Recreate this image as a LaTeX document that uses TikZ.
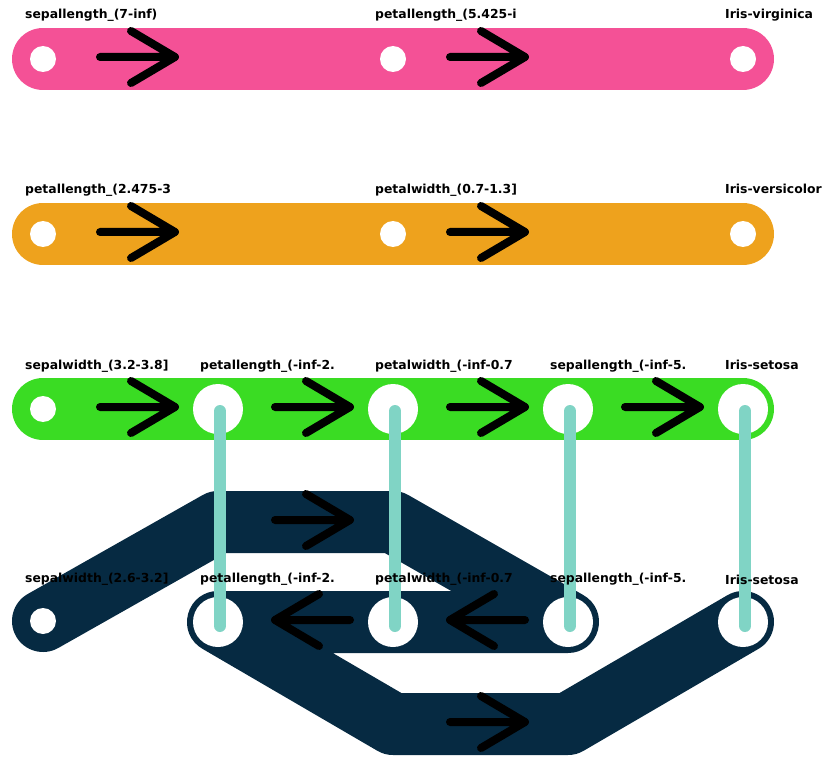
\documentclass[tikz,border=0pt]{standalone}
\usepackage{fontspec}
\setmainfont{DejaVu Sans}
\definecolor{pinkc}{RGB}{244,81,150}
\definecolor{orangec}{RGB}{238,162,29}
\definecolor{greenc}{RGB}{58,220,35}
\definecolor{navyc}{RGB}{6,42,66}
\definecolor{tealc}{RGB}{128,212,197}
\pgfdeclarelayer{bg}
\pgfsetlayers{bg,main}
\begin{document}
\begin{tikzpicture}[x=1pt,y=-1pt,
  band/.style={line width=62pt, line cap=round, line join=round},
  stn/.style={circle, fill=white, inner sep=0pt, minimum size=26pt},
  hub/.style={circle, fill=white, inner sep=0pt, minimum size=50pt},
  xfer/.style={line width=12pt, line cap=round, draw=tealc},
  lbl/.style={anchor=base west, inner sep=0pt, font=\fontsize{12.4}{14}\selectfont\bfseries},
  arrline/.style={line width=8pt, line cap=round, line join=round, draw=black},
  rarr/.pic={\draw[arrline] (-37.5,0) -- (37.5,0) (-6.5,-26) -- (37.5,0) -- (-6.5,26);},
  larr/.pic={\draw[arrline] (37.5,0) -- (-37.5,0) (6.5,-26) -- (-37.5,0) -- (6.5,26);}
]
\useasboundingbox (0,0) rectangle (823,757);

% stations
\node[stn] (s11) at (43,59) {};
\node[stn] (s13) at (393,59) {};
\node[stn] (s15) at (743,59) {};
\node[stn] (s21) at (43,234) {};
\node[stn] (s23) at (393,234) {};
\node[stn] (s25) at (743,234) {};
\node[stn] (s31) at (43,409) {};
\node[hub] (s32) at (218,409) {};
\node[hub] (s33) at (393,409) {};
\node[hub] (s34) at (568,409) {};
\node[hub] (s35) at (743,409) {};
\node[stn] (s41) at (43,621) {};
\node[hub] (s42) at (218,622) {};
\node[hub] (s43) at (393,622) {};
\node[hub] (s44) at (568,622) {};
\node[hub] (s45) at (743,622) {};
\coordinate (u1) at (218,522);
\coordinate (u2) at (393,522);
\coordinate (d1) at (393,724);
\coordinate (d2) at (568,724);

% bands
\begin{pgfonlayer}{bg}
\draw[band, pinkc] (s11.center) -- (s13.center) -- (s15.center);
\draw[band, orangec] (s21.center) -- (s23.center) -- (s25.center);
\draw[band, greenc] (s31.center) -- (s32.center) -- (s33.center) -- (s34.center) -- (s35.center);
\draw[band, navyc] (s41.center) -- (u1) -- (u2) -- (s44.center) -- (s43.center) -- (s42.center) -- (d1) -- (d2) -- (s45.center);
\end{pgfonlayer}

% arrows
\pic at (137.5,57) {rarr};
\pic at (487.5,57) {rarr};
\pic at (137.5,232) {rarr};
\pic at (487.5,232) {rarr};
\pic at (137.5,407) {rarr};
\pic at (312.5,407) {rarr};
\pic at (487.5,407) {rarr};
\pic at (662.5,407) {rarr};
\pic at (312.5,520) {rarr};
\pic at (312.5,620) {larr};
\pic at (487.5,620) {larr};
\pic at (487.5,722) {rarr};

% transfers
\draw[xfer] ([xshift=2pt,yshift=-2pt]s32.center) -- ([xshift=2pt,yshift=-4pt]s42.center);
\draw[xfer] ([xshift=2pt,yshift=-2pt]s33.center) -- ([xshift=2pt,yshift=-4pt]s43.center);
\draw[xfer] ([xshift=2pt,yshift=-2pt]s34.center) -- ([xshift=2pt,yshift=-4pt]s44.center);
\draw[xfer] ([xshift=2pt,yshift=-2pt]s35.center) -- ([xshift=2pt,yshift=-4pt]s45.center);

% labels
\node[lbl] (l11) at (25,19) {sepallength\_(7-inf)};
\node[lbl] (l13) at (375,19) {petallength\_(5.425-i};
\node[lbl] (l15) at (725,19) {Iris-virginica};
\node[lbl] (l21) at (25,194) {petallength\_(2.475-3};
\node[lbl] (l23) at (375,194) {petalwidth\_(0.7-1.3]};
\node[lbl] (l25) at (725,194) {Iris-versicolor};
\node[lbl] (l31) at (25,369) {sepalwidth\_(3.2-3.8]};
\node[lbl] (l32) at (200,369) {petallength\_(-inf-2.};
\node[lbl] (l33) at (375,369) {petalwidth\_(-inf-0.7};
\node[lbl] (l34) at (550,369) {sepallength\_(-inf-5.};
\node[lbl] (l35) at (725,369) {Iris-setosa};
\node[lbl] (l41) at (25,582) {sepalwidth\_(2.6-3.2]};
\node[lbl] (l42) at (200,582) {petallength\_(-inf-2.};
\node[lbl] (l43) at (375,582) {petalwidth\_(-inf-0.7};
\node[lbl] (l44) at (550,582) {sepallength\_(-inf-5.};
\node[lbl] (l45) at (725,584) {Iris-setosa};
\end{tikzpicture}
\end{document}
